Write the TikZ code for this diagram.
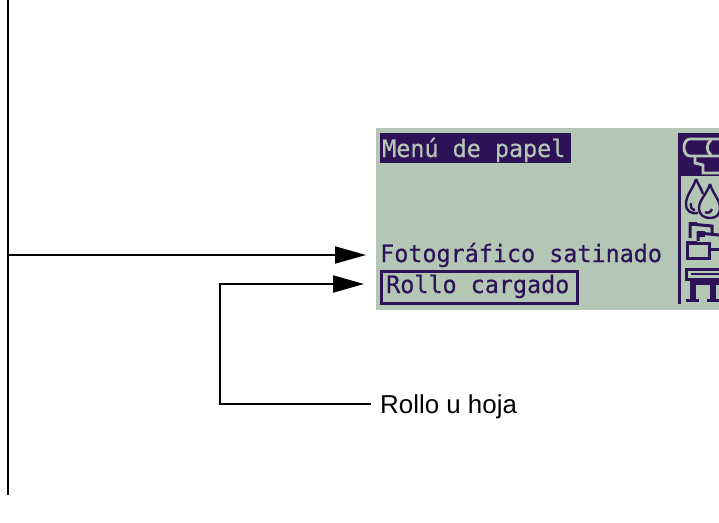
\documentclass[tikz,border=0pt]{standalone}
\usepackage{fontspec}
\setmainfont{Liberation Sans}
\newfontfamily\lcdfont[FakeBold=0.5]{DejaVu Sans Mono}
\usetikzlibrary{arrows.meta}
\definecolor{lcdbg}{HTML}{B4C7B4}
\definecolor{lcdink}{HTML}{2E1258}
\tikzset{
  wire/.style={draw=black,line width=1.8pt},
  pointer/.style={wire,-{Triangle[length=31pt,width=17pt]}},
  lcdtext/.style={anchor=base west,inner sep=0pt,text=lcdink,font=\lcdfont\fontsize{24}{24}\selectfont,xscale=.975},
  callout/.style={anchor=base west,inner sep=0pt,text=black,font=\fontsize{25.9}{26}\selectfont},
  ink/.style={draw=lcdink,line width=3pt},
  inkthin/.style={draw=lcdink,line width=2.4pt},
  inkrev/.style={draw=lcdbg,line width=2.8pt},
}
\begin{document}
\begin{tikzpicture}[x=1pt,y=-1pt]
\useasboundingbox (0,0) rectangle (719,522);
% LCD panel
\fill[lcdbg] (376,128) rectangle (719,310);
\fill[lcdink] (380,133) rectangle (571,163);
\node[lcdtext,text=lcdbg] (menu) at (382,157) {Menú de papel};
\node[lcdtext] (foto) at (380,262) {Fotográfico satinado};
\node[lcdtext] (rollo) at (386,293) {Rollo cargado};
\draw[ink] (381,271) rectangle (577,303);
% icon column
\draw[ink] (679,133) -- (679,304);
\fill[lcdink] (678,133) rectangle (719,176);
% roll icon
\draw[inkrev] (719,139) -- (690,139) .. controls (682,139) and (682,156) .. (690,156) -- (719,156);
\draw[inkrev] (711,140) .. controls (706,144) and (706,151) .. (711,155);
\draw[inkrev] (695,157) -- (695,163) -- (703,165) -- (703,173) -- (719,173);
% drops icon
\draw[inkthin] (696,179) .. controls (693,189) and (686,195) .. (686,204) .. controls (686,212) and (692,214) .. (698,213);
\draw[inkthin] (696,179) .. controls (699,186) and (702,190) .. (703,194);
\draw[inkthin] (710,184) .. controls (707,194) and (699,200) .. (699,208) .. controls (699,215) and (704,218) .. (710,218) .. controls (716,218) and (720,215) .. (720,208) .. controls (720,200) and (713,194) .. (710,184);
\draw[inkthin] (691,203) .. controls (690,207) and (692,210) .. (695,210);
\draw[inkthin] (705,212) .. controls (708,214) and (711,212) .. (712,209);
% folders icon
\draw[ink] (690,238) -- (690,224) -- (712,226) -- (712,234);
\draw[ink] (698,241) -- (698,233) -- (719,235);
\draw[ink] (687,258) -- (687,243) -- (709,243) -- (709,258) -- cycle;
\draw[ink] (709,249) -- (719,249);
\fill[lcdink] (686,241) rectangle (697,245);
\fill[lcdink] (697,231) rectangle (705,237);
\fill[lcdink] (689,222) rectangle (697,226);
% plotter icon
\draw[ink] (719,269) -- (686,269) -- (686,279) -- (719,279);
\draw[inkthin] (691,274) -- (719,274);
\fill[lcdink] (690,281) rectangle (719,285);
\fill[lcdink] (690,283) rectangle (696,299);
\fill[lcdink] (710,283) rectangle (716,299);
\fill[lcdink] (686,299) rectangle (699,302);
\fill[lcdink] (707,299) rectangle (719,302);
% callout
\node[callout] (label) at (380,413) {Rollo u hoja};
% connectors
\coordinate (trunktop) at (8,0);
\coordinate (trunkbot) at (8,495);
\coordinate (trunkjoin) at (8,255);
\coordinate (fototip) at (366,255);
\coordinate (rollotip) at (364,284);
\coordinate (labelend) at (371,404);
\coordinate (elbowlow) at (220,404);
\coordinate (elbowhigh) at (220,284);
\draw[wire] (trunktop) -- (trunkbot);
\draw[pointer] (trunkjoin) -- (fototip);
\draw[pointer] (labelend) -- (elbowlow) -- (elbowhigh) -- (rollotip);
\end{tikzpicture}
\end{document}
